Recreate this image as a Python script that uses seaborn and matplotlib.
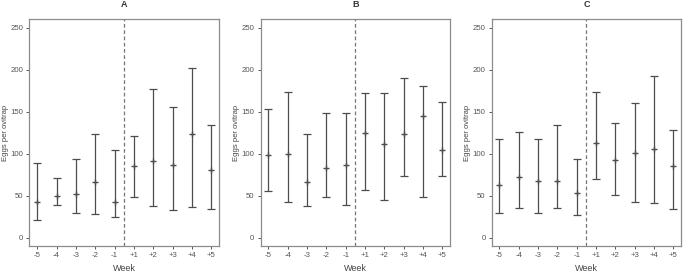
import numpy as np
import pandas as pd
import matplotlib
matplotlib.use("Agg")
import matplotlib.pyplot as plt
import seaborn as sns

weeks = ["-5", "-4", "-3", "-2", "-1", "+1", "+2", "+3", "+4", "+5"]
panels = ["A", "B", "C"]

mean_a = [43, 50, 52, 66, 42, 85, 91, 87, 124, 81]
low_a = [21, 39, 29, 28, 25, 48, 38, 33, 37, 34]
high_a = [89, 71, 94, 124, 104, 121, 177, 155, 202, 134]

mean_b = [98, 100, 66, 83, 87, 125, 112, 124, 145, 104]
low_b = [56, 43, 38, 49, 39, 57, 45, 74, 48, 74]
high_b = [153, 174, 124, 149, 148, 172, 172, 190, 180, 162]

mean_c = [63, 72, 67, 67, 53, 113, 92, 101, 105, 85]
low_c = [29, 35, 30, 35, 27, 70, 51, 42, 41, 34]
high_c = [118, 126, 117, 134, 94, 173, 136, 160, 192, 128]

rows = []
for p, m, lo, hi in zip(panels, [mean_a, mean_b, mean_c],
                        [low_a, low_b, low_c], [high_a, high_b, high_c]):
    for w, mv, lv, hv in zip(weeks, m, lo, hi):
        rows.append({"panel": p, "week": w, "mean": mv, "low": lv, "high": hv})
df = pd.DataFrame(rows)

sns.set_theme(style="ticks")
plt.rcParams["font.family"] = ["Liberation Sans", "DejaVu Sans"]

fig, axes = plt.subplots(1, 3, figsize=(6.86, 2.75), dpi=100)
fig.subplots_adjust(left=0.043, right=0.993, top=0.93, bottom=0.105, wspace=0.22)

bar_color = "#4d4d4d"
frame_color = "#8c8c8c"

for ax, p in zip(axes, panels):
    d = df[df["panel"] == p].reset_index(drop=True)
    xpos = np.arange(len(d))
    ax.errorbar(xpos, d["mean"], yerr=[d["mean"] - d["low"], d["high"] - d["mean"]],
                fmt="none", ecolor=bar_color, elinewidth=0.9, capsize=3, capthick=0.9)
    sns.scatterplot(x=xpos, y=d["mean"], marker="+", s=22, color=bar_color,
                    linewidth=1.0, ax=ax, legend=False)
    ax.axvline(4.5, color="#777777", linestyle="--", linewidth=0.9, dashes=(3, 2))
    ax.set_xlim(-0.4, 9.4)
    ax.set_ylim(-10, 260)
    ax.set_xticks(xpos)
    ax.set_xticklabels(d["week"])
    ax.set_yticks([0, 50, 100, 150, 200, 250])
    ax.set_title(p, fontsize=6.5, fontweight="bold", color="#333333", pad=9)
    ax.set_xlabel("Week", fontsize=6.5, color="#444444", labelpad=3)
    ax.set_ylabel("Eggs per ovitrap", fontsize=5.5, color="#444444", labelpad=1)
    ax.tick_params(labelsize=5.6, colors="#555555", length=2.5, width=0.7, pad=2)
    for s in ax.spines.values():
        s.set_color(frame_color)
        s.set_linewidth(0.9)
        s.set_visible(True)

plt.savefig("out.png", dpi=100)
